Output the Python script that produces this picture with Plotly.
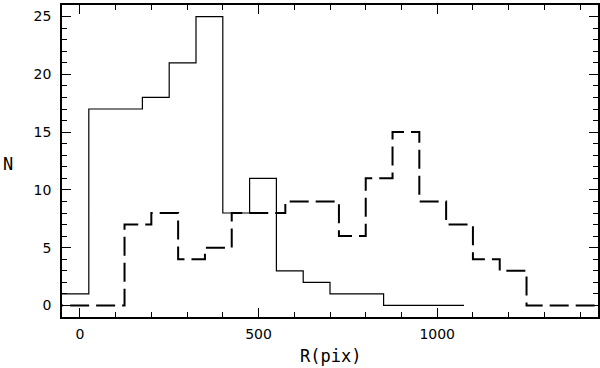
import plotly.graph_objects as go

# Solid histogram (bin left edges, width 75)
solid_edges = [-50, 25, 100, 175, 250, 325, 400, 475, 550, 625, 700, 775, 850, 925, 1000, 1075]
solid_counts = [1, 17, 17, 18, 21, 25, 8, 11, 3, 2, 1, 1, 0, 0, 0]

# Dashed histogram
dashed_edges = [-100, -25, 50, 125, 200, 275, 350, 425, 500, 575, 650, 725, 800, 875, 950, 1025, 1100, 1175, 1250, 1325, 1400, 1475]
dashed_counts = [0, 0, 0, 7, 8, 4, 5, 8, 8, 9, 9, 6, 11, 15, 9, 7, 4, 3, 0, 0, 0]

x_tickvals = [0, 500, 1000]
y_tickvals = [0, 5, 10, 15, 20, 25]

fig = go.Figure()
fig.add_trace(go.Scatter(
    x=solid_edges, y=solid_counts + [solid_counts[-1]],
    mode="lines", line=dict(shape="hv", color="black", width=1.2),
    showlegend=False, hoverinfo="skip"))
fig.add_trace(go.Scatter(
    x=dashed_edges, y=dashed_counts + [dashed_counts[-1]],
    mode="lines", line=dict(shape="hv", color="black", width=2, dash="19px,7px"),
    showlegend=False, hoverinfo="skip"))

axis_common = dict(
    showgrid=False, zeroline=False, showline=True, linecolor="black", linewidth=1.5,
    ticks="inside", ticklen=9, tickwidth=1.2, tickcolor="black", mirror="ticks",
    tickfont=dict(family="DejaVu Sans", size=14, color="black"), automargin=False,
)
fig.update_xaxes(range=[-50, 1450], tickvals=x_tickvals,
                 minor=dict(ticks="inside", ticklen=5, dtick=100, tick0=0, tickcolor="black", tickwidth=1.2),
                 ticklabelstandoff=3, **axis_common)
fig.update_yaxes(range=[-1, 26], tickvals=y_tickvals,
                 minor=dict(ticks="inside", ticklen=5, dtick=1, tick0=0, tickcolor="black", tickwidth=1.2),
                 ticklabelstandoff=6, **axis_common)

fig.add_annotation(text="N", xref="paper", yref="paper", x=-0.1, y=0.49,
                   xanchor="center", yanchor="middle",
                   showarrow=False, font=dict(family="DejaVu Sans Mono", size=17, color="black"))
fig.add_annotation(text="R(pix)", xref="paper", yref="paper", x=0.5, y=-0.125,
                   xanchor="center", yanchor="middle", showarrow=False,
                   font=dict(family="DejaVu Sans Mono", size=17, color="black"))

fig.update_layout(width=600, height=368, margin=dict(l=62, r=2, t=5, b=51),
                  plot_bgcolor="white", paper_bgcolor="white")
fig.write_html("out.html", config={"displayModeBar": False},
               post_script="document.body.style.margin='0';document.body.style.padding='0';document.body.style.overflow='hidden';")
